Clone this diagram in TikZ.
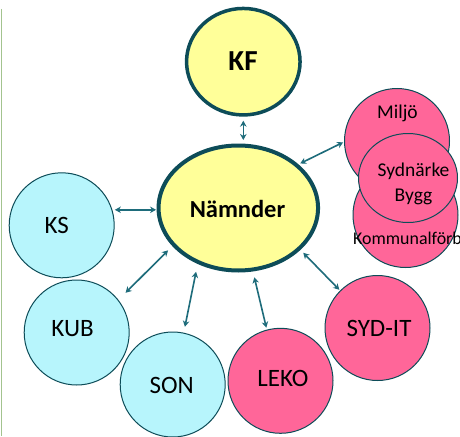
\documentclass[tikz,border=0pt]{standalone}
\usepackage{fontspec}
\setmainfont{Carlito}
\usetikzlibrary{arrows.meta,shapes.geometric}
\definecolor{yel}{HTML}{FFFF99}
\definecolor{cya}{HTML}{B7F5FC}
\definecolor{pnk}{HTML}{FF6699}
\definecolor{edge}{HTML}{0D4C58}
\definecolor{arr}{HTML}{1E6C7B}
\definecolor{lft}{HTML}{A3C38F}
\tikzset{
  big/.style={ellipse, draw=edge, fill=yel, inner sep=0pt},
  round/.style={circle, draw=edge, line width=1pt, minimum size=105pt, inner sep=0pt},
  blue/.style={round, fill=cya},
  pink/.style={round, fill=pnk},
  lbl/.style={inner sep=0pt, font=\fontsize{25}{27}\selectfont},
  link/.style={draw=arr, line width=1.6pt, {Stealth[length=6pt,width=6.5pt]}-{Stealth[length=6pt,width=6.5pt]}},
}
\begin{document}
\begin{tikzpicture}[x=1pt,y=-1pt]
\useasboundingbox (0,0) rectangle (460,436);
\clip (0,0) rectangle (460,436);
\fill[white] (0,0) rectangle (460,436);
\draw[lft, line width=1.5pt] (1.5,9) coordinate (lt) -- (1.5,436) coordinate (lb);
% main ellipses
\node[big, line width=3.5pt, minimum width=113.5pt, minimum height=106.5pt] (kf) at (243.3,61.7) {};
\node[font=\bfseries\fontsize{29}{31}\selectfont, inner sep=0pt] (kft) at (243,61) {KF};
\node[big, line width=4pt, minimum width=159.5pt, minimum height=125pt] (nam) at (238.3,208) {};
\node[font=\bfseries\fontsize{24.5}{26}\selectfont, inner sep=0pt] (namt) at (237.5,209) {Nämnder};
% blue circles
\node[blue] (ks) at (61.7,225.3) {};
\node[lbl] (kst) at (56.7,225) {KS};
\node[blue] (kub) at (76.7,332.5) {};
\node[lbl] (kubt) at (72.5,329) {KUB};
\node[blue] (son) at (172.7,384.5) {};
\node[lbl] (sont) at (171.7,385.5) {SON};
% pink circles
\node[pink] (leko) at (280.5,380.8) {};
\node[lbl] (lekot) at (283,378) {LEKO};
\node[pink] (syd) at (377.5,328) {};
\node[lbl] (sydt) at (379,328) {SYD-IT};
\node[pink] (kom) at (405.5,215) {};
\node[pink] (mil) at (397,141) {};
\node[inner sep=0pt, font=\fontsize{19.5}{21}\selectfont] (milt) at (397.5,113) {Miljö};
\node[ellipse, draw=edge, line width=1pt, fill=pnk, minimum width=99pt, minimum height=89pt, inner sep=0pt] (sb) at (408,178) {};
\node[inner sep=0pt, align=center, font=\fontsize{19.5}{25}\selectfont] (sbt) at (413.5,184) {Sydnärke\\Bygg};
\node[font=\fontsize{17.9}{20}\selectfont, anchor=west, inner sep=0pt] (komt) at (353,238) {Kommunalförb};
% links
\draw[link, shorten <=4pt, shorten >=3.5pt] (kf.south) -- (kf.south |- nam.north);
\draw[link, shorten <=2pt, shorten >=1pt] (nam.36) -- (mil.181);
\draw[link, shorten <=2.5pt, shorten >=0.5pt] (ks.17.5) -- (ks.17.5 -| nam.west);
\draw[link, shorten <=10pt, shorten >=6pt] (kub.38) -- (nam.210.5);
\draw[link, shorten <=6pt, shorten >=8pt] (son.78) -- (nam.234.4);
\draw[link, shorten <=2pt, shorten >=6pt] (leko.105) -- (nam.283.8);
\draw[link, shorten <=1pt, shorten >=4pt] (syd.135) -- (nam.326);
\end{tikzpicture}
\end{document}
